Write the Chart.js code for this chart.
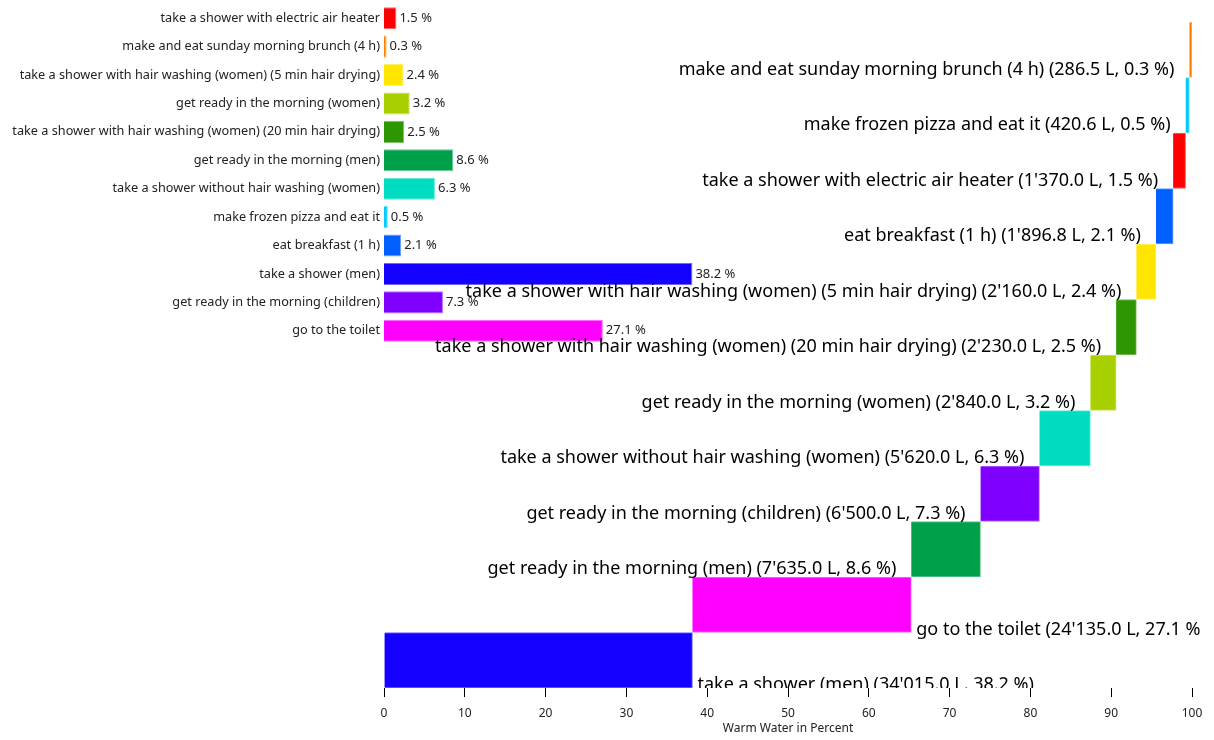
<!DOCTYPE html>
<html>
<head>
<meta charset="utf-8">
<title>Warm Water</title>
<script src="https://cdn.jsdelivr.net/npm/chart.js@4.4.1/dist/chart.umd.min.js"></script>
<style>
body { margin: 0; background: #fff; }
#wrap { position: relative; width: 1214px; height: 740px; }
canvas { position: absolute; left: 0; top: 0; }
</style>
</head>
<body>
<div id="wrap">
<canvas id="shareChart" width="1214" height="350"></canvas>
<canvas id="waterfallChart" width="1214" height="740"></canvas>
</div>
<script>
var activities = [
  "take a shower with electric air heater",
  "make and eat sunday morning brunch (4 h)",
  "take a shower with hair washing (women) (5 min hair drying)",
  "get ready in the morning (women)",
  "take a shower with hair washing (women) (20 min hair drying)",
  "get ready in the morning (men)",
  "take a shower without hair washing (women)",
  "make frozen pizza and eat it",
  "eat breakfast (1 h)",
  "take a shower (men)",
  "get ready in the morning (children)",
  "go to the toilet"
];
var liters = [1370.0, 286.5, 2160.0, 2840.0, 2230.0, 7635.0, 5620.0, 420.6, 1896.8, 34015.0, 6500.0, 24135.0];
var colors = ['#ff0000', '#ff8000', '#ffe500', '#a8d000', '#2e9600', '#00a04a',
              '#00dcc0', '#00ccff', '#0060ff', '#1400ff', '#8000ff', '#ff00ff'];
var xTicks = [0, 10, 20, 30, 40, 50, 60, 70, 80, 90, 100];
var axisTitle = 'Warm Water in Percent';

var FONT = '"Noto Sans", "Open Sans", sans-serif';

var total = liters.reduce(function (a, b) { return a + b; }, 0);
var percent = liters.map(function (l) { return l / total * 100; });
var edgeColors = colors.map(function (c) { return c + '99'; });

function fmtLiters(n) {
  var parts = n.toFixed(1).split('.');
  return parts[0].replace(/\B(?=(\d{3})+(?!\d))/g, "'") + '.' + parts[1];
}

// waterfall: smallest on top, cumulative from the bottom
var order = activities.map(function (a, i) { return i; })
  .sort(function (a, b) { return liters[a] - liters[b]; });
var stepNames = [], stepData = [], stepColors = [], stepEdges = [], stepText = [];
var acc = 0;
order.slice().reverse().forEach(function (i) {
  stepNames.unshift(activities[i]);
  stepData.unshift([acc, acc + percent[i]]);
  stepColors.unshift(colors[i]);
  stepEdges.unshift(edgeColors[i]);
  stepText.unshift(activities[i] + ' (' + fmtLiters(liters[i]) + ' L, ' + percent[i].toFixed(1) + ' %)');
  acc += percent[i];
});

// category names on the left + value after each bar
var shareLabels = {
  id: 'shareLabels',
  afterDatasetsDraw: function (chart) {
    var ctx = chart.ctx;
    var meta = chart.getDatasetMeta(0);
    var yScale = chart.scales.y;
    ctx.save();
    ctx.fillStyle = '#222';
    ctx.textBaseline = 'middle';
    ctx.font = '12.7px ' + FONT;
    ctx.textAlign = 'right';
    activities.forEach(function (name, i) {
      ctx.fillText(name, chart.chartArea.left - 4, yScale.getPixelForValue(i));
    });
    ctx.font = '13px ' + FONT;
    ctx.textAlign = 'left';
    meta.data.forEach(function (bar, i) {
      ctx.fillText(percent[i].toFixed(1) + ' %', bar.x + 3, bar.y);
    });
    ctx.restore();
  }
};

var stepLabels = {
  id: 'stepLabels',
  afterDatasetsDraw: function (chart) {
    var ctx = chart.ctx;
    var meta = chart.getDatasetMeta(0);
    ctx.save();
    ctx.beginPath();
    ctx.rect(0, 0, 1200, chart.chartArea.bottom);
    ctx.clip();
    ctx.font = '18px ' + FONT;
    ctx.fillStyle = '#000';
    ctx.textBaseline = 'alphabetic';
    meta.data.forEach(function (bar, i) {
      var rowBottom = bar.y + bar.height / 2;
      var left = Math.min(bar.x, bar.base), right = Math.max(bar.x, bar.base);
      if (stepData[i][0] < 50) {
        ctx.textAlign = 'left';
        ctx.fillText(stepText[i], right + 5, rowBottom + 2);
      } else {
        ctx.textAlign = 'right';
        ctx.fillText(stepText[i], left - 15, rowBottom - 3);
      }
    });
    ctx.restore();
  }
};

new Chart(document.getElementById('shareChart').getContext('2d'), {
  type: 'bar',
  data: {
    labels: activities,
    datasets: [{
      data: percent,
      backgroundColor: colors,
      borderColor: edgeColors,
      borderWidth: 1,
      barPercentage: 0.78,
      categoryPercentage: 1
    }]
  },
  options: {
    indexAxis: 'y',
    responsive: false,
    animation: false,
    layout: { padding: { top: 4, bottom: 5, left: 384, right: 22 } },
    plugins: { legend: { display: false }, tooltip: { enabled: false } },
    scales: {
      x: { display: false, min: 0, max: 100 },
      y: { display: false }
    }
  },
  plugins: [shareLabels]
});

new Chart(document.getElementById('waterfallChart').getContext('2d'), {
  type: 'bar',
  data: {
    labels: stepNames,
    datasets: [{
      data: stepData,
      backgroundColor: stepColors,
      borderColor: stepEdges,
      borderWidth: 1,
      barPercentage: 1,
      categoryPercentage: 1
    }]
  },
  options: {
    indexAxis: 'y',
    responsive: false,
    animation: false,
    layout: { padding: { top: 22, bottom: 0, left: 384, right: 22 } },
    plugins: { legend: { display: false }, tooltip: { enabled: false } },
    scales: {
      x: {
        min: 0, max: 100,
        afterBuildTicks: function (s) { s.ticks = xTicks.map(function (v) { return { value: v }; }); },
        grid: { drawOnChartArea: false, drawTicks: true, tickLength: 9, color: '#000' },
        border: { display: false },
        ticks: { color: '#222', padding: 9, font: { family: FONT, size: 12 } },
        title: { display: true, text: axisTitle, color: '#222', font: { family: FONT, size: 12 }, padding: { top: 0, bottom: 4 } },
        afterFit: function (s) { s.height = 52; }
      },
      y: { display: false }
    }
  },
  plugins: [stepLabels]
});
</script>
</body>
</html>
